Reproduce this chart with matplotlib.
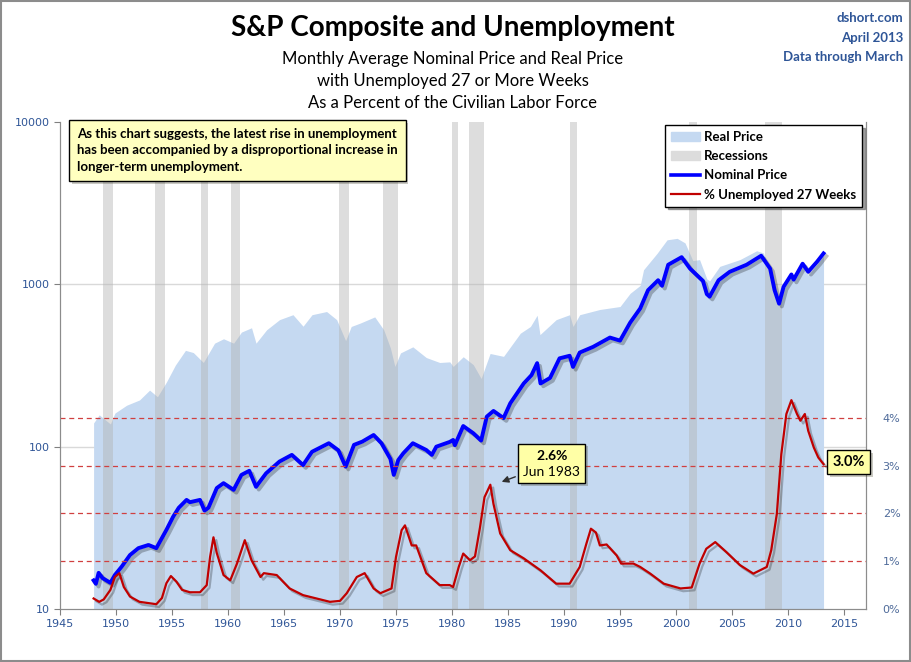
"""S&P Composite and long-term unemployment chart.
"""

import matplotlib
matplotlib.use("Agg")
import matplotlib.pyplot as plt
import matplotlib.patheffects as pe
from matplotlib.patches import Patch, Rectangle
from matplotlib.lines import Line2D

# Nominal S&P Composite, monthly average (year, value)
nom_years = [1948.0, 1948.2, 1948.45, 1948.8, 1949.5, 1949.9, 1950.5, 1951.25,
             1952.0, 1952.9, 1953.6, 1954.5, 1955.1, 1955.6, 1956.3, 1956.6,
             1957.5, 1957.9, 1958.25, 1959.0, 1959.6, 1960.5, 1961.2, 1961.9,
             1962.5, 1963.4, 1964.6, 1965.7, 1966.7, 1967.5, 1969.0, 1969.85,
             1970.5, 1971.25, 1972.0, 1973.0, 1973.7, 1974.5, 1974.8, 1975.2,
             1975.65, 1976.5, 1977.7, 1978.2, 1978.6, 1979.8, 1980.1, 1980.25,
             1981.0, 1981.9, 1982.6, 1983.1, 1983.7, 1984.6, 1985.2, 1986.4,
             1987.1, 1987.6, 1987.9, 1988.75, 1989.6, 1990.5, 1990.8, 1991.4,
             1992.6, 1994.1, 1995.0, 1995.9, 1996.8, 1997.5, 1998.4, 1998.75,
             1999.3, 2000.5, 2001.25, 2002.0, 2002.4, 2002.75, 2003.0, 2003.8,
             2004.8, 2006.3, 2007.6, 2008.4, 2008.8, 2009.2, 2009.6, 2010.3,
             2010.5, 2011.3, 2011.8, 2012.6, 2013.17]
nom_price = [15.0, 14.3, 16.7, 15.5, 14.5, 16.2, 18.2, 21.5,
             23.7, 24.8, 23.7, 30.7, 37, 42, 47, 45.5,
             47, 40.4, 42, 55.6, 59.6, 54.2, 67, 71,
             56.6, 68.5, 81, 89, 77, 93, 105, 95,
             75.3, 102.6, 107.5, 118, 105, 84, 67, 82.7,
             91, 105, 95.4, 89, 100, 107, 110, 102,
             134, 121, 109, 153, 166, 150, 185, 245,
             276, 327, 245, 265, 350, 363, 310, 380,
             412, 470, 450, 580, 710, 920, 1060, 980,
             1320, 1470, 1250, 1115, 1050, 870, 840, 1060,
             1195, 1320, 1500, 1250, 920, 760, 965, 1150,
             1070, 1340, 1195, 1380, 1550]

# Real price (inflation adjusted)
real_years = [1948.0, 1948.5, 1949.5, 1949.9, 1950.95, 1952.1, 1953.0, 1953.7,
              1954.5, 1955.3, 1956.2, 1956.9, 1957.8, 1958.8, 1959.6, 1960.5,
              1961.2, 1962.1, 1962.5, 1963.45, 1964.6, 1965.8, 1966.7, 1967.5,
              1968.8, 1969.7, 1970.5, 1971.0, 1971.8, 1973.1, 1973.9, 1974.5,
              1974.9, 1975.4, 1976.5, 1977.7, 1978.9, 1979.8, 1980.1, 1981.0,
              1981.9, 1982.6, 1983.4, 1984.6, 1986.1, 1987.0, 1987.6, 1987.85,
              1989.3, 1990.5, 1990.8, 1991.4, 1993.2, 1995.0, 1995.9, 1996.8,
              1997.1, 1998.3, 1999.2, 2000.1, 2000.8, 2001.5, 2002.1, 2002.75,
              2003.0, 2003.9, 2005.7, 2007.2, 2007.8, 2008.8, 2009.2, 2009.6,
              2011.4, 2011.8, 2013.17]
real_price = [140, 157, 138, 161, 180, 194, 223, 203,
              250, 318, 392, 380, 330, 434, 462, 434,
              508, 540, 434, 525, 606, 650, 552, 650,
              680, 606, 450, 550, 577, 630, 525, 405,
              312, 378, 412, 354, 330, 333, 312, 358,
              320, 263, 375, 360, 500, 550, 645, 490,
              606, 650, 550, 650, 700, 730, 880, 985,
              1230, 1550, 1880, 1920, 1800, 1400, 1420, 1080,
              1050, 1290, 1420, 1610, 1560, 1000, 830, 1010,
              1290, 1140, 1500]

# Unemployed 27+ weeks, % of civilian labor force
unemp_years = [1948.0, 1948.5, 1948.9, 1949.5, 1949.9, 1950.3, 1950.7, 1951.25,
               1952.1, 1953.0, 1953.6, 1954.1, 1954.5, 1954.9, 1955.4, 1955.9,
               1956.6, 1957.5, 1958.1, 1958.4, 1958.7, 1959.0, 1959.6, 1960.2,
               1960.8, 1961.5, 1962.1, 1962.9, 1963.2, 1964.35, 1965.5, 1966.7,
               1967.9, 1969.1, 1970.0, 1970.6, 1971.5, 1972.2, 1973.0, 1973.6,
               1974.6, 1975.0, 1975.5, 1975.8, 1976.4, 1976.8, 1977.7, 1978.9,
               1979.8, 1980.1, 1980.6, 1981.0, 1981.6, 1982.05, 1982.5, 1982.9,
               1983.42, 1983.7, 1984.3, 1985.2, 1986.4, 1987.9, 1989.3, 1990.5,
               1991.4, 1992.0, 1992.4, 1992.85, 1993.2, 1993.8, 1994.7, 1995.1,
               1996.2, 1996.8, 1997.7, 1998.9, 2000.4, 2001.4, 2002.1, 2002.7,
               2003.5, 2004.5, 2005.7, 2006.9, 2008.1, 2008.5, 2009.0, 2009.4,
               2009.85, 2010.3, 2010.8, 2011.1, 2011.5, 2011.8, 2012.3, 2012.7,
               2013.17]
unemp_pct = [0.22, 0.15, 0.2, 0.40, 0.67, 0.75, 0.46, 0.26,
             0.15, 0.12, 0.10, 0.23, 0.54, 0.69, 0.57, 0.40,
             0.35, 0.35, 0.5, 1.09, 1.5, 1.17, 0.71, 0.6,
             0.95, 1.44, 1.02, 0.67, 0.75, 0.71, 0.43, 0.29,
             0.22, 0.15, 0.17, 0.33, 0.67, 0.75, 0.43, 0.33,
             0.43, 1.09, 1.65, 1.75, 1.33, 1.33, 0.75, 0.5,
             0.5, 0.46, 0.88, 1.16, 1.02, 1.1, 1.71, 2.34,
             2.6, 2.2, 1.58, 1.23, 1.06, 0.81, 0.53, 0.53,
             0.88, 1.37, 1.68, 1.6, 1.33, 1.35, 1.12, 0.95,
             0.95, 0.88, 0.74, 0.53, 0.43, 0.45, 0.95, 1.26,
             1.4, 1.19, 0.92, 0.74, 0.88, 1.23, 1.99, 3.24,
             4.08, 4.37, 4.08, 3.94, 4.08, 3.73, 3.38, 3.17,
             3.03]

# NBER recessions (start, end)
recessions = [(1948.83, 1949.75), (1953.5, 1954.33), (1957.58, 1958.25),
              (1960.25, 1961.08), (1969.92, 1970.83), (1973.83, 1975.17),
              (1980.0, 1980.5), (1981.5, 1982.83), (1990.5, 1991.17),
              (2001.17, 2001.83), (2007.92, 2009.42)]

x_ticks = list(range(1945, 2016, 5))
left_ticks = [10, 100, 1000, 10000]
right_ticks = [0, 1, 2, 3, 4]

label_blue = "#2f5597"
font = "Lato"
plt.rcParams["mathtext.fontset"] = "custom"
plt.rcParams["mathtext.rm"] = "Lato"
plt.rcParams["mathtext.bf"] = "Lato:bold"

fig = plt.figure(figsize=(9.11, 6.62), dpi=100)
ax = fig.add_axes([60 / 911, 1 - 609 / 662, 806 / 911, 487 / 662])
ax2 = ax.twinx()

# Real price area + recessions
ax.fill_between(real_years, 10, real_price, color="#c5d9f1", lw=0, zorder=1)
for start, end in recessions:
    ax.axvspan(start, end, color="#b2b2b2", alpha=0.43, lw=0, zorder=2)
for v in [100, 1000]:
    ax.axhline(v, color="#d9d9d9", lw=1, zorder=0)

shadow = [pe.SimpleLineShadow(offset=(2, -2), shadow_color="k", alpha=0.25), pe.Normal()]
ax.plot(nom_years, nom_price, color="#0000ff", lw=2.8, zorder=4,
        solid_joinstyle="round", path_effects=shadow)

ax.set_yscale("log")
ax.set_ylim(10, 10000)
ax.set_xlim(1945, 2016.96)
ax.set_xticks(x_ticks)
ax.set_yticks(left_ticks)
ax.set_yticklabels([str(v) for v in left_ticks])
ax.minorticks_off()
ax.tick_params(colors="#808080", labelcolor=label_blue, labelsize=8, length=4)

# Percent axis
for v in [1, 2, 3, 4]:
    ax2.axhline(v, color="#d04040", lw=0.9, ls=(0, (4, 3)), zorder=1)
ax2.plot(unemp_years, unemp_pct, color="#c00000", lw=1.6, zorder=3,
         path_effects=shadow)
ax2.set_ylim(0, 10.19)
ax2.set_yticks(right_ticks)
ax2.set_yticklabels([f"{v}%" for v in right_ticks])
ax2.tick_params(axis="y", length=0, pad=12, labelsize=8, labelcolor="#4f6b9a")

for a in (ax, ax2):
    a.spines["top"].set_visible(False)
    for s in ["left", "right", "bottom"]:
        a.spines[s].set_color("#8c8c8c")

# Annotations
box = dict(boxstyle="square,pad=0.35", fc="#ffffa6", ec="black", lw=1)
patch_shadow = [pe.withSimplePatchShadow(offset=(2, -2), alpha=0.3)]
ann = ax2.annotate("$\\mathbf{2.6\\%}$\nJun 1983", xy=(1984.2, 2.64),
                   xytext=(1988.9, 3.05), ha="center", va="center", fontsize=10,
                   family=font, linespacing=1.35, bbox=box, zorder=7,
                   arrowprops=dict(arrowstyle="-|>", color="#303030", lw=1,
                                   mutation_scale=10))
ann.get_bbox_patch().set_path_effects(patch_shadow)
t = ax2.text(2015.4, 3.07, "3.0%", ha="center", va="center", fontsize=10.5,
             weight="bold", family=font, bbox=dict(box, pad=0.25), clip_on=False,
             zorder=7)
t.get_bbox_patch().set_path_effects(patch_shadow)

note = ax.text(17 / 806, 1 - 6 / 487,
               "As this chart suggests, the latest rise in unemployment\n"
               "has been accompanied by a disproportional increase in\n"
               "longer-term unemployment.",
               transform=ax.transAxes, ha="left", va="top", fontsize=9.5,
               weight="bold", family=font, linespacing=1.45, zorder=6,
               bbox=dict(boxstyle="square,pad=0.6", fc="#ffffc0", ec="black", lw=1))
note.get_bbox_patch().set_path_effects(patch_shadow)

handles = [Patch(color="#c5d9f1", label="Real Price"),
           Patch(color="#dcdcdc", label="Recessions"),
           Line2D([], [], color="#0000ff", lw=2.6, label="Nominal Price"),
           Line2D([], [], color="#c00000", lw=1.6, label="% Unemployed 27 Weeks")]
leg = ax2.legend(handles=handles, loc="upper right", bbox_to_anchor=(0.995, 0.994),
                 borderaxespad=0, frameon=True, fancybox=False, shadow=True,
                 handlelength=2.2, handletextpad=0.3, borderpad=0.45,
                 labelspacing=0.55, prop=dict(family=font, weight="bold", size=9.5))
leg.get_frame().set_edgecolor("black")
leg.get_frame().set_linewidth(1)

# Titles
fig.text(0.497, 1 - 28 / 662, "S&P Composite and Unemployment", ha="center",
         va="center", fontsize=20, weight="bold", family=font)
for i, line in enumerate(["Monthly Average Nominal Price and Real Price",
                          "with Unemployed 27 or More Weeks",
                          "As a Percent of the Civilian Labor Force"]):
    fig.text(0.497, 1 - (59 + 22 * i) / 662, line, ha="center", va="center",
             fontsize=12, family=font)
for i, line in enumerate(["dshort.com", "April 2013", "Data through March"]):
    fig.text(903 / 911, 1 - (18 + 19.5 * i) / 662, line, ha="right", va="center",
             fontsize=9.5, weight="bold", family=font, color="#2e5597")

fig.patches.append(Rectangle((0.001, 0.001), 0.998, 0.997, transform=fig.transFigure,
                             fill=False, edgecolor="#8c8c8c", lw=1.5))

fig.savefig("out.png", dpi=100)
